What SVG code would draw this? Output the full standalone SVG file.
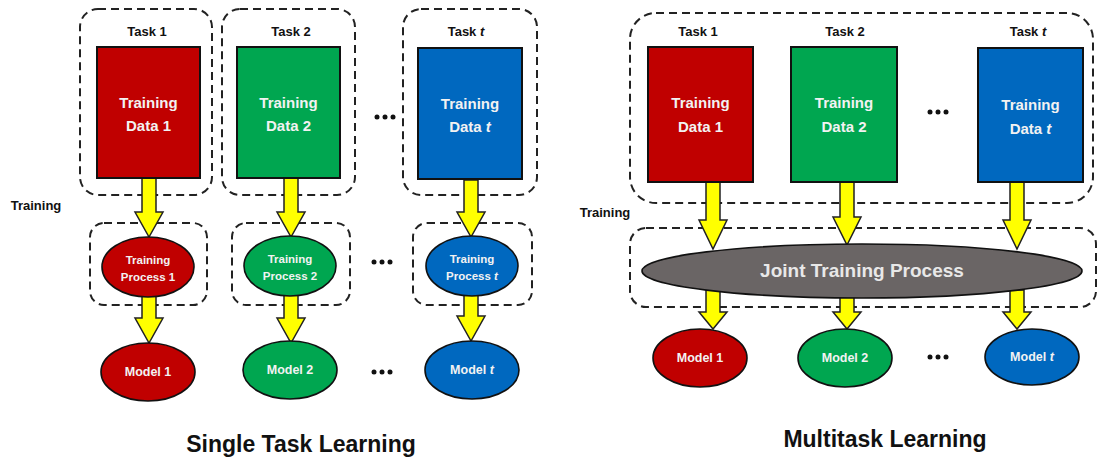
<svg xmlns="http://www.w3.org/2000/svg" width="1099" height="459" viewBox="0 0 1099 459">
<style>
text{font-family:"Liberation Sans",Arial,sans-serif;font-weight:bold;text-anchor:middle}
.lbl{font-size:13px;fill:#111}
.dat{font-size:15px;fill:#F2F2F2}
.proc{font-size:11.5px;fill:#F2F2F2}
.mdl{font-size:12.5px;fill:#F2F2F2}
.title{font-size:23px;fill:#111}
.dash{fill:none;stroke:#222;stroke-width:2;stroke-dasharray:8 5}
.rect{stroke:#111;stroke-width:2}
.ell{stroke:#111;stroke-width:1.6}
.red{fill:#C00000}.green{fill:#00A650}.blue{fill:#0068BF}.grey{fill:#6A6565}
.arrow{fill:#FFFF00;stroke:#222;stroke-width:1.5;stroke-linejoin:miter}
.dot{fill:#111}
</style>
<rect width="1099" height="459" fill="#ffffff"/>

<!-- dashed group boxes -->
<g id="groups">
<rect class="dash" x="80" y="9" width="132" height="186" rx="18"/>
<rect class="dash" x="222" y="9" width="133" height="186" rx="18"/>
<rect class="dash" x="403" y="9" width="134" height="186" rx="18"/>
<rect class="dash" x="90" y="223" width="117" height="82" rx="14"/>
<rect class="dash" x="232" y="223" width="118" height="82" rx="14"/>
<rect class="dash" x="413" y="223" width="119" height="82" rx="14"/>
<rect class="dash" x="630" y="13" width="463" height="190" rx="26"/>
<rect class="dash" x="630" y="228" width="466" height="79" rx="16"/>
</g>

<!-- connectors -->
<g id="connectors">
<polygon class="arrow" points="142,178 156,178 156,212 163,212 149,237 135,212 142,212"/>
<polygon class="arrow" points="142,292 156,292 156,318 163,318 149,343 135,318 142,318"/>
<polygon class="arrow" points="284,178 298,178 298,212 305,212 291,237 277,212 284,212"/>
<polygon class="arrow" points="284,292 298,292 298,318 305,318 291,343 277,318 284,318"/>
<polygon class="arrow" points="464,180 478,180 478,212 485,212 471,237 457,212 464,212"/>
<polygon class="arrow" points="464,292 478,292 478,316 485,316 471,341 457,316 464,316"/>
<polygon class="arrow" points="706,182 720,182 720,220 727,220 713,249 699,220 706,220"/>
<polygon class="arrow" points="840,182 854,182 854,217 861,217 847,245 833,217 840,217"/>
<polygon class="arrow" points="1010,182 1024,182 1024,220 1031,220 1017,249 1003,220 1010,220"/>
<polygon class="arrow" points="706,290 720,290 720,312 727,312 713,329 699,312 706,312"/>
<polygon class="arrow" points="840,290 854,290 854,312 861,312 847,329 833,312 840,312"/>
<polygon class="arrow" points="1010,290 1024,290 1024,312 1031,312 1017,329 1003,312 1010,312"/>
</g>

<!-- Single task learning -->
<text class="lbl" x="36" y="210">Training</text>

<g id="st-task1">
<text class="lbl" x="147" y="36">Task 1</text>
<rect class="rect red" x="97" y="47" width="103" height="131"/>
<text class="dat" x="148.5" y="108">Training</text>
<text class="dat" x="148.5" y="131">Data 1</text>
</g>
<g id="st-task2">
<text class="lbl" x="291" y="36">Task 2</text>
<rect class="rect green" x="237" y="47" width="103" height="131"/>
<text class="dat" x="288.5" y="108">Training</text>
<text class="dat" x="288.5" y="131">Data 2</text>
</g>
<g id="st-taskt">
<text class="lbl" x="466" y="36">Task <tspan font-style="italic">t</tspan></text>
<rect class="rect blue" x="418" y="48" width="104" height="131"/>
<text class="dat" x="470" y="109">Training</text>
<text class="dat" x="470" y="132">Data <tspan font-style="italic">t</tspan></text>
</g>
<g id="st-dots1"><circle class="dot" cx="377" cy="117" r="2.5"/><circle class="dot" cx="385" cy="117" r="2.5"/><circle class="dot" cx="393" cy="117" r="2.5"/></g>

<g id="st-proc1">
<ellipse class="ell red" cx="148" cy="267" rx="46" ry="30"/>
<text class="proc" x="148" y="264">Training</text>
<text class="proc" x="148" y="281">Process 1</text>
</g>
<g id="st-proc2">
<ellipse class="ell green" cx="290" cy="266" rx="46" ry="30"/>
<text class="proc" x="290" y="263">Training</text>
<text class="proc" x="290" y="280">Process 2</text>
</g>
<g id="st-proct">
<ellipse class="ell blue" cx="472" cy="266" rx="46" ry="30"/>
<text class="proc" x="472" y="263">Training</text>
<text class="proc" x="472" y="280">Process <tspan font-style="italic">t</tspan></text>
</g>
<g id="st-dots2"><circle class="dot" cx="374" cy="262" r="2.5"/><circle class="dot" cx="382" cy="262" r="2.5"/><circle class="dot" cx="390" cy="262" r="2.5"/></g>

<g id="st-model1">
<ellipse class="ell red" cx="148" cy="372" rx="47" ry="29"/>
<text class="mdl" x="148" y="376">Model 1</text>
</g>
<g id="st-model2">
<ellipse class="ell green" cx="290" cy="370" rx="47" ry="29"/>
<text class="mdl" x="290" y="374">Model 2</text>
</g>
<g id="st-modelt">
<ellipse class="ell blue" cx="472" cy="370" rx="47" ry="29"/>
<text class="mdl" x="472" y="374">Model <tspan font-style="italic">t</tspan></text>
</g>
<g id="st-dots3"><circle class="dot" cx="374" cy="372" r="2.5"/><circle class="dot" cx="382" cy="372" r="2.5"/><circle class="dot" cx="390" cy="372" r="2.5"/></g>

<text class="title" x="301" y="452">Single Task Learning</text>

<!-- Multitask learning -->
<text class="lbl" x="605" y="217">Training</text>

<g id="mt-task1">
<text class="lbl" x="698" y="36">Task 1</text>
<rect class="rect red" x="648" y="47" width="105" height="135"/>
<text class="dat" x="700.5" y="108">Training</text>
<text class="dat" x="700.5" y="132">Data 1</text>
</g>
<g id="mt-task2">
<text class="lbl" x="845" y="36">Task 2</text>
<rect class="rect green" x="791" y="47" width="106" height="135"/>
<text class="dat" x="844" y="108">Training</text>
<text class="dat" x="844" y="132">Data 2</text>
</g>
<g id="mt-taskt">
<text class="lbl" x="1028" y="36">Task <tspan font-style="italic">t</tspan></text>
<rect class="rect blue" x="978" y="48" width="105" height="134"/>
<text class="dat" x="1030.5" y="110">Training</text>
<text class="dat" x="1030.5" y="134">Data <tspan font-style="italic">t</tspan></text>
</g>
<g id="mt-dots1"><circle class="dot" cx="930" cy="112" r="2.5"/><circle class="dot" cx="938" cy="112" r="2.5"/><circle class="dot" cx="946" cy="112" r="2.5"/></g>

<g id="mt-joint">
<ellipse class="ell grey" cx="862" cy="271" rx="220" ry="27"/>
<text x="862" y="277" font-size="19px" fill="#E8E8E8">Joint Training Process</text>
</g>

<g id="mt-model1">
<ellipse class="ell red" cx="700" cy="358" rx="47" ry="29"/>
<text class="mdl" x="700" y="362">Model 1</text>
</g>
<g id="mt-model2">
<ellipse class="ell green" cx="845" cy="358" rx="47" ry="29"/>
<text class="mdl" x="845" y="362">Model 2</text>
</g>
<g id="mt-modelt">
<ellipse class="ell blue" cx="1032" cy="357" rx="47" ry="28"/>
<text class="mdl" x="1032" y="361">Model <tspan font-style="italic">t</tspan></text>
</g>
<g id="mt-dots2"><circle class="dot" cx="930" cy="357" r="2.5"/><circle class="dot" cx="938" cy="357" r="2.5"/><circle class="dot" cx="946" cy="357" r="2.5"/></g>

<text class="title" x="885" y="447" font-size="25px">Multitask Learning</text>
</svg>
